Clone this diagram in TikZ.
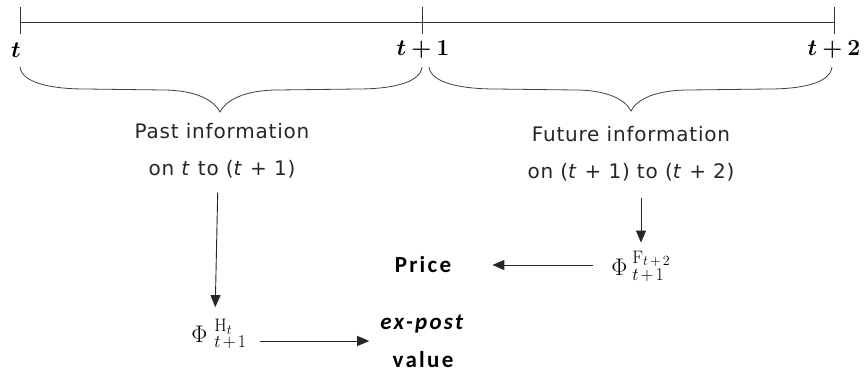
\RequirePackage{fix-cm}
\documentclass[tikz,border=0pt]{standalone}
\usepackage[no-math]{fontspec}
\setmainfont{DejaVu Sans}
\newfontfamily\carlito[LetterSpace=10]{Carlito}
\newfontfamily\infofont[LetterSpace=4]{DejaVu Sans}
\usepackage{bm}
\DeclareMathSizes{24}{24}{18}{14}
\DeclareMathSizes{23}{23}{16}{12}
\usetikzlibrary{arrows.meta}
\newcommand{\gap}{\hspace{2pt}}
\begin{document}
\begin{tikzpicture}[x=1pt,y=-1pt,
  line/.style={line width=0.9pt, black!80},
  bracepath/.style={line width=0.8pt, black!75},
  arr/.style={line width=0.9pt, black!85, -{Triangle[length=12pt,width=10pt]}},
  tlabel/.style={inner sep=0pt, font=\fontsize{23}{27}\selectfont},
  info/.style={inner sep=0pt, align=center, text=black!85, font=\infofont\fontsize{20}{37}\selectfont},
  phi/.style={inner sep=0pt, text=black, font=\fontsize{24}{28}\selectfont},
  bold/.style={inner sep=0pt, align=center, font=\carlito\bfseries\fontsize{23}{38}\selectfont}]
\useasboundingbox (0,0) rectangle (864,374);
% timeline
\coordinate (L) at (20,22);
\coordinate (M) at (422,22);
\coordinate (R) at (834,22);
\draw[line] (L) -- (R);
\draw[line] ([yshift=15pt]L) -- ([yshift=-12pt]L);
\draw[line] ([yshift=15pt]M) -- ([yshift=-12pt]M);
\draw[line] ([yshift=15pt]R) -- ([yshift=-12pt]R);
\node[tlabel] (lt) at (16,50) {$\bm{t}$};
\node[tlabel] (lt1) at (423,50) {$\bm{t+1}$};
\node[tlabel] (lt2) at (834,50) {$\bm{t+2}$};
% braces
\draw[bracepath] (20,67) .. controls (22,84) and (55,89) .. (85,89) -- (163,90)
  .. controls (195,90) and (214,100) .. (220,112)
  .. controls (226,100) and (245,90) .. (278,90) -- (358,89)
  .. controls (388,89) and (420,84) .. (422,67);
\draw[bracepath] (429,67) .. controls (431,84) and (465,89) .. (495,89) -- (575,90)
  .. controls (606,90) and (625,99) .. (631,111)
  .. controls (637,99) and (656,90) .. (689,90) -- (769,89)
  .. controls (799,89) and (830,84) .. (832,67);
% texts
\node[info] (past) at (222,151) {Past information\\on \textit{t} to (\textit{t} + 1)};
\node[info] (future) at (631,154) {Future information\\on (\textit{t} + 1) to (\textit{t} + 2)};
\node[phi] (phiH) at (219,334) {$\Phi\hspace{7pt}{}^{\mathrm{H}_t}_{t\gap+\gap1}$};
\node[phi] (phiF) at (641,266) {$\Phi\hspace{5pt}{}^{\mathrm{F}_{t\gap+\gap2}}_{t\gap+\gap1}$};
\node[bold] (price) at (423,265) {Price};
\node[bold] (expost) at (423,341) {\textit{ex-post}\\value};
% arrows
\draw[arr, shorten <=14pt, shorten >=12pt] ([xshift=-4pt]past.south) -- ([xshift=-4pt]phiH.north);
\draw[arr, shorten <=16pt, shorten >=8pt] (future.south -| phiF.north) -- (phiF.north);
\draw[arr, shorten <=18pt, shorten >=41pt] (phiF.west |- price.east) -- (price.east);
\draw[arr, shorten <=13pt, shorten >=11pt] (phiH.east |- expost.west) -- (expost.west);
\end{tikzpicture}
\end{document}
